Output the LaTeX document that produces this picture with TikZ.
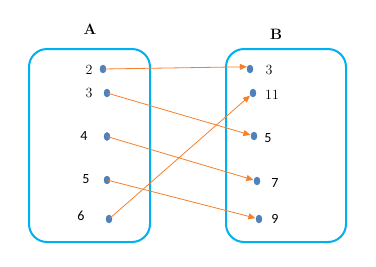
\documentclass[tikz,border=0pt]{standalone}
\usepackage{fontspec}
\newfontfamily\sansdig{Carlito}
\usetikzlibrary{arrows.meta,shapes.geometric}
\definecolor{boxc}{HTML}{00B0F0}
\definecolor{dotc}{HTML}{4F81BD}
\definecolor{dotd}{HTML}{3A6EA5}
\definecolor{arrc}{HTML}{F57F2A}
\tikzset{
  setbox/.style={draw=boxc, line width=2pt, rounded corners=18pt},
  pt/.style={ellipse, draw=dotd, fill=dotc, line width=0.3pt, minimum width=6pt, minimum height=8pt, inner sep=0pt},
  sr/.style={font=\fontsize{14}{14}\selectfont, inner sep=0pt},
  ss/.style={font=\sansdig\fontsize{14}{14}\selectfont, inner sep=0pt},
  hd/.style={font=\bfseries\fontsize{15}{15}\selectfont, inner sep=0pt},
  map/.style={draw=arrc, line width=0.8pt, -{Triangle[length=7pt,width=6pt]}, shorten <=1pt, shorten >=0.5pt}
}
\begin{document}
\begin{tikzpicture}[x=1pt,y=-1pt]
\useasboundingbox (0,0) rectangle (376,266);
\draw[setbox] (29,49) rectangle (150,242);
\draw[setbox] (226,49) rectangle (346,242);
\node[hd] (A) at (90,29) {A};
\node[hd] (B) at (276,34) {B};
% left
\node[pt] (a2) at (103,69) {};
\node[pt] (a3) at (107,93) {};
\node[pt] (a4) at (107,136.5) {};
\node[pt] (a5) at (107,180) {};
\node[pt] (a6) at (109,219) {};
\node[sr] (la2) at (89,70) {2};
\node[sr] (la3) at (89,93) {3};
\node[ss] (la4) at (84,136) {4};
\node[ss] (la5) at (86,179) {5};
\node[ss] (la6) at (81,216) {6};
% right
\node[pt] (b3) at (250,69) {};
\node[pt] (b11) at (253,93) {};
\node[pt] (b5) at (254,136) {};
\node[pt] (b7) at (257,181) {};
\node[pt] (b9) at (259,219) {};
\node[sr] (lb3) at (269,70) {3};
\node[sr] (lb11) at (272,95) {11};
\node[ss] (lb5) at (268,138) {5};
\node[ss] (lb7) at (275,183) {7};
\node[ss] (lb9) at (275,219) {9};
% maps
\draw[map] (a2.center) -- (b3.140);
\draw[map] (a3.center) -- (b5);
\draw[map] (a4.center) -- (b7);
\draw[map] (a5.center) -- (b9);
\draw[map] (a6.center) -- (b11);
\end{tikzpicture}
\end{document}
